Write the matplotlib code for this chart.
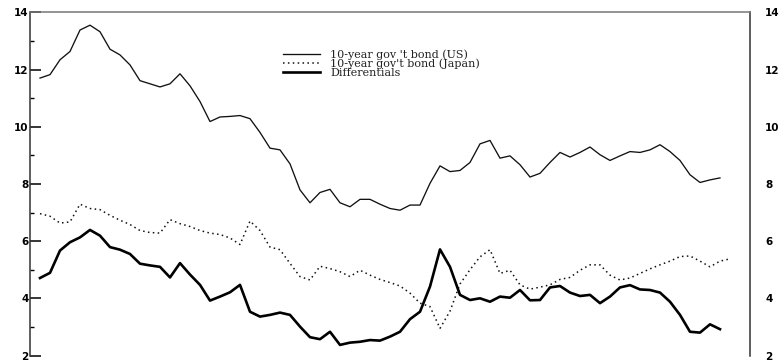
import matplotlib
matplotlib.use("Agg")
import matplotlib.pyplot as plt
from matplotlib.ticker import MultipleLocator

# quarterly 10-year government bond yields (%)
us_yield = [11.70, 11.82, 12.34, 12.63, 13.38, 13.55, 13.32, 12.71, 12.51, 12.16,
            11.61, 11.50, 11.39, 11.50, 11.85, 11.43, 10.88, 10.18, 10.34, 10.36,
            10.39, 10.28, 9.80, 9.25, 9.19, 8.70, 7.79, 7.34, 7.70, 7.81,
            7.34, 7.20, 7.46, 7.46, 7.29, 7.14, 7.08, 7.26, 7.26, 8.02,
            8.63, 8.43, 8.47, 8.75, 9.40, 9.52, 8.90, 8.98, 8.67, 8.24,
            8.37, 8.75, 9.10, 8.94, 9.10, 9.29, 9.02, 8.82, 8.98, 9.13,
            9.10, 9.19, 9.37, 9.13, 8.82, 8.32, 8.05, 8.14, 8.21]

jp_yield = [6.96, 6.87, 6.63, 6.67, 7.29, 7.14, 7.10, 6.90, 6.73, 6.58,
            6.37, 6.30, 6.28, 6.75, 6.61, 6.51, 6.37, 6.28, 6.23, 6.11,
            5.88, 6.70, 6.37, 5.79, 5.70, 5.22, 4.76, 4.64, 5.12, 5.04,
            4.93, 4.76, 4.98, 4.81, 4.66, 4.55, 4.43, 4.18, 3.83, 3.71,
            2.95, 3.55, 4.50, 5.00, 5.45, 5.70, 4.87, 4.98, 4.47, 4.32,
            4.39, 4.47, 4.66, 4.73, 4.98, 5.17, 5.17, 4.81, 4.64, 4.71,
            4.87, 5.03, 5.17, 5.30, 5.46, 5.48, 5.30, 5.10, 5.30, 5.38]

differential = [4.71, 4.89, 5.67, 5.96, 6.13, 6.39, 6.19, 5.79, 5.70, 5.55,
                5.21, 5.15, 5.10, 4.73, 5.23, 4.83, 4.47, 3.92, 4.06, 4.21,
                4.47, 3.53, 3.36, 3.42, 3.50, 3.42, 3.01, 2.64, 2.57, 2.83,
                2.37, 2.45, 2.48, 2.54, 2.52, 2.66, 2.83, 3.27, 3.53, 4.41,
                5.71, 5.10, 4.12, 3.94, 4.00, 3.88, 4.06, 4.02, 4.29, 3.93,
                3.94, 4.38, 4.43, 4.20, 4.08, 4.12, 3.83, 4.06, 4.38, 4.46,
                4.31, 4.29, 4.20, 3.88, 3.42, 2.83, 2.80, 3.09, 2.92]

labels = ["10-year gov 't bond (US)", "10-year gov't bond (Japan)", "Differentials"]

W, H = 783, 363
fig = plt.figure(figsize=(W / 100, H / 100), dpi=100)
ax = fig.add_axes([30 / W, (H - 355.5) / H, 720 / W, 343.2 / H])

ax.plot(range(len(us_yield)), us_yield, color="#111111", lw=0.95, label=labels[0])
ax.plot(range(len(jp_yield)), jp_yield, color="#111111", lw=1.1,
        linestyle=(0, (1, 2.2)), label=labels[1])
ax.plot(range(len(differential)), differential, color="#000000", lw=1.9,
        label=labels[2])

ax.set_xlim(-1, 71)
ax.set_ylim(2, 14)
ax.set_xticks([])
ax.yaxis.set_major_locator(MultipleLocator(2))
ax.yaxis.set_minor_locator(MultipleLocator(1))

for side in ["left", "right", "top"]:
    ax.spines[side].set_color("#333333")
    ax.spines[side].set_linewidth(1.1)
ax.spines["top"].set_color("#777777")
ax.spines["bottom"].set_visible(False)

tick_font = dict(family="DejaVu Sans", weight="bold", size=7.5)
ax.tick_params(axis="y", which="major", direction="in", length=8, width=1.1,
               pad=1, left=True, right=True, labelleft=True, labelright=False)
ax.tick_params(axis="y", which="minor", direction="in", length=3, width=1.0,
               left=True, right=True)
for t in ax.get_yticklabels():
    t.set_fontproperties(tick_font)

# right-hand labels sit further from the frame
ax2 = ax.twinx()
ax2.set_ylim(ax.get_ylim())
ax2.yaxis.set_major_locator(MultipleLocator(2))
ax2.tick_params(axis="y", which="both", length=0, pad=11)
for t in ax2.get_yticklabels():
    t.set_fontproperties(tick_font)
for s in ax2.spines.values():
    s.set_visible(False)

leg = ax.legend(loc="upper left", bbox_to_anchor=(283 / W, 1 - 49 / H),
                bbox_transform=fig.transFigure, frameon=False, borderpad=0,
                borderaxespad=0, handlelength=3.3, handletextpad=0.95,
                labelspacing=-0.08,
                prop=dict(family="DejaVu Serif", size=8))
for t in leg.get_texts():
    t.set_color("#222222")

fig.savefig("out.png", dpi=100)
